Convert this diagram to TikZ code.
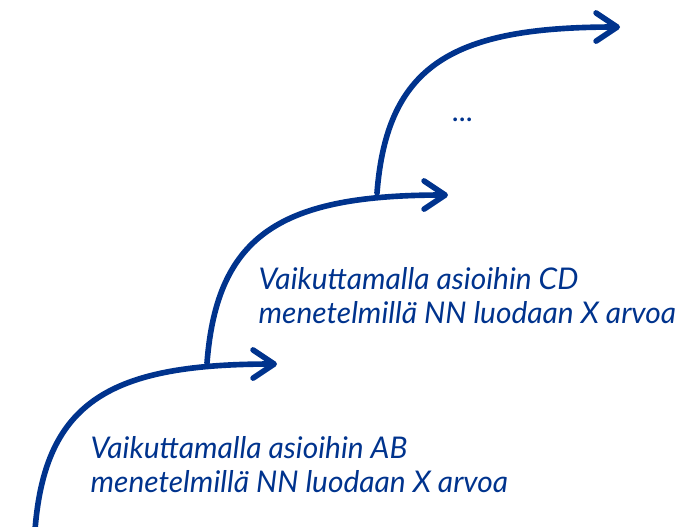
\documentclass[tikz,border=0pt]{standalone}
\usepackage{fontspec}
\setmainfont{Lato}
\usetikzlibrary{arrows.meta}
\definecolor{stairblue}{RGB}{0,51,141}
\tikzset{
  stair/.style={draw=stairblue, line width=1.6pt, line cap=round,
    -{Straight Barb[length=6pt,width=8pt,round]}},
  steptext/.style={text=stairblue, font=\fontsize{8.5}{9.7}\selectfont\itshape,
    align=left, inner sep=0pt, anchor=west}
}
\begin{document}
\begin{tikzpicture}[x=0.01cm,y=-0.01cm]
\useasboundingbox (0,0) rectangle (682,526); % frame

\coordinate (s1) at (35,530); % first foot
\coordinate (e1) at (277,364);
\coordinate (s2) at (207,363); % second foot, on first arc
\coordinate (e2) at (448,195);
\coordinate (s3) at (377,193); % third foot, on second arc
\coordinate (e3) at (620,27);

\draw[stair] (s1) .. controls +(10,-130) and +(-165,0) .. (e1); % step 1
\draw[stair] (s2) .. controls +(10,-130) and +(-165,0) .. (e2); % step 2
\draw[stair] (s3) .. controls +(10,-130) and +(-165,0) .. (e3); % step 3

\node[steptext] (t1) at (90,465) {Vaikuttamalla asioihin AB\\menetelmillä NN luodaan X arvoa};
\node[steptext] (t2) at (258,296) {Vaikuttamalla asioihin CD\\menetelmillä NN luodaan X arvoa};
\node[steptext, anchor=base west] (t3) at (452,121) {...};

\end{tikzpicture}
\end{document}
